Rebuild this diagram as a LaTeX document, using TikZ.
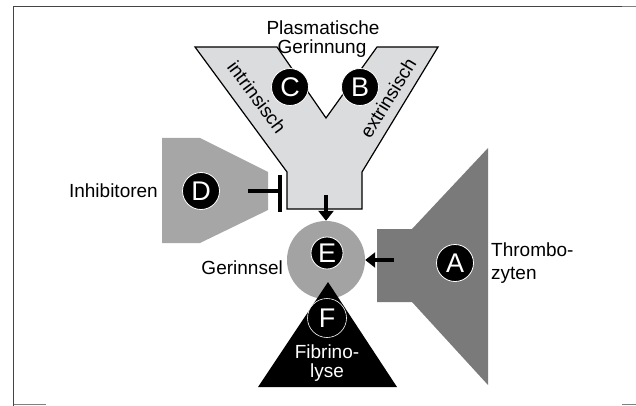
\documentclass[tikz,border=0pt]{standalone}
\usepackage{fontspec}
\setmainfont{Liberation Sans}
\usetikzlibrary{arrows.meta}
\definecolor{ygray}{HTML}{DADCDE}
\definecolor{dgray}{HTML}{A6A6A6}
\definecolor{agray}{HTML}{7A7A7A}
\definecolor{cgray}{HTML}{A3A3A3}
\definecolor{frame}{HTML}{444444}
\tikzset{
  lbl/.style={font=\fontsize{19}{20}\selectfont, inner sep=0pt},
  badge/.style={circle, fill=black, draw=white, line width=0.8pt, minimum size=37pt, inner sep=0pt, text=white, font=\fontsize{27}{27}\selectfont},
  thick arrow/.style={line width=3.6pt, -{Triangle[width=15pt,length=10pt]}},
  inhib/.style={line width=3.8pt}
}
\begin{document}
\begin{tikzpicture}[x=1pt,y=-1pt]
\useasboundingbox (0,0) rectangle (636,406);
% frame
\draw[frame, line width=1.3pt] (13.5,406) -- (13.5,6.5) -- (622,6.5);
\draw[gray, line width=1.3pt] (622,6.5) -- (636,6.5);
\draw[gray, line width=1.1pt] (13.5,404.5) -- (46,404.5);
\draw[gray, line width=1.1pt] (622,404.5) -- (636,404.5);
% Inhibitor shape D
\fill[dgray] (162,138) -- (200,138) -- (268,172) -- (268,210) -- (200,243) -- (162,243) -- cycle;
% Thrombocyte shape A
\fill[agray] (377,229) -- (412,229) -- (488,148) -- (488,385) -- (412,302) -- (377,302) -- cycle;
% Y shape
\filldraw[fill=ygray, draw=black, line width=1.2pt]
  (195,47) -- (277,47) -- (326,118) -- (377,47) -- (438,47) -- (362,172) -- (362,209) -- (287,209) -- (287,172) -- cycle;
% clot
\node[circle, fill=cgray, minimum size=78pt, inner sep=0pt] (clot) at (326,260) {};
% fibrinolysis triangle
\fill[black] (328,282) -- (397,387) -- (258,387) -- cycle;
% badges
\node[badge] (C) at (290,87) {C};
\node[badge] (B) at (360,87) {B};
\node[badge] (D) at (201,191) {D};
\node[badge, minimum size=32pt] (E) at (327,253) {E};
\node[badge, minimum size=39pt, line width=0.6pt] (F) at (327,318) {F};
\node[badge] (A) at (455,263) {A};
% labels
\node[lbl] (plas) at (323,28) {Plasmatische};
\node[lbl] (ger) at (322,49) {Gerinnung};
\node[lbl, rotate=-53.6] (intr) at (257,97) {intrinsisch};
\node[lbl, rotate=58.7] (extr) at (388,98) {extrinsisch};
\node[lbl, anchor=east] (inh) at (158,191) {Inhibitoren};
\node[lbl, anchor=east] (gerin) at (283,268) {Gerinnsel};
\node[lbl, anchor=west] (thr1) at (491,250) {Thrombo-};
\node[lbl, anchor=west] (thr2) at (491,275) {zyten};
\node[lbl, text=white] (fib1) at (327,352) {Fibrino-};
\node[lbl, text=white] (fib2) at (327,373) {lyse};
% connectors
\coordinate (ystem) at (326,195);
\coordinate (aout) at (394,260);
\coordinate (dout) at (248,191);
\coordinate (tbar) at (280,191);
\draw[thick arrow] (ystem) -- (clot.north);
\draw[thick arrow] (aout) -- (clot.east);
\draw[inhib] (dout) -- (tbar);
\draw[inhib] (280,175) -- (280,212);
\end{tikzpicture}
\end{document}
